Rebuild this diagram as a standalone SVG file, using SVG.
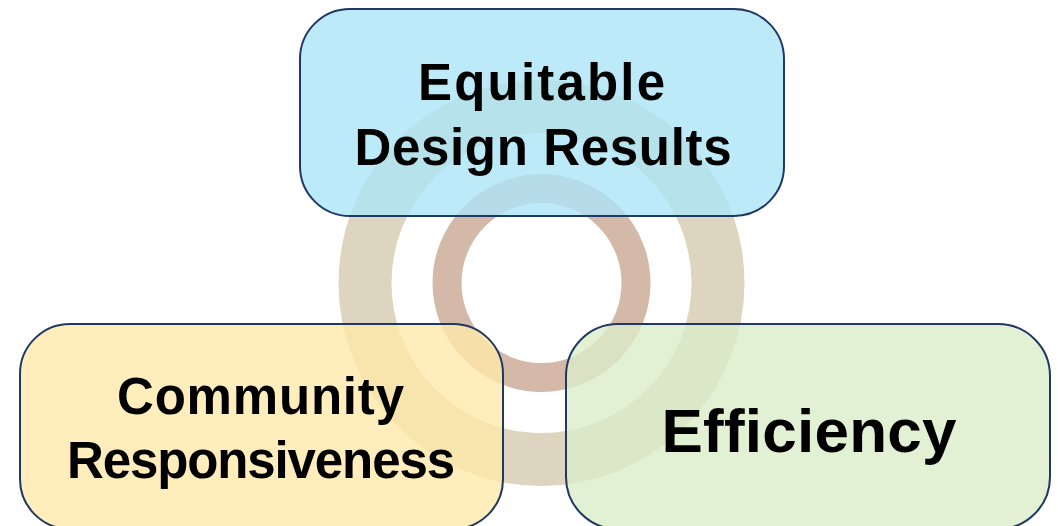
<svg xmlns="http://www.w3.org/2000/svg" width="1058" height="526" viewBox="0 0 1058 526">
  <style>
    .box { stroke: #1F3864; stroke-width: 2; fill-opacity: 0.8; }
    .label { font-family: "Liberation Sans", Arial, sans-serif; font-weight: bold; fill: #000; text-anchor: middle; }
    .ring { fill: none; }
  </style>
  <rect width="1058" height="526" fill="#FFFFFF"/>

  <!-- concentric rings behind the three boxes -->
  <g id="rings">
    <circle class="ring" cx="541.5" cy="283" r="176.5" stroke="#DDD5BF" stroke-width="53"/>
    <circle class="ring" cx="541.5" cy="283" r="94.5" stroke="#D4B9A8" stroke-width="29"/>
  </g>

  <g id="connectors"></g>

  <g id="node-equitable">
    <rect class="box" x="300" y="9" width="484" height="207" rx="50" ry="50" fill="#ACE5F7"/>
    <text class="label" x="541.5" y="100" font-size="51" textLength="247" lengthAdjust="spacing">Equitable</text>
    <text class="label" x="543" y="165" font-size="51" textLength="377" lengthAdjust="spacing">Design Results</text>
  </g>

  <g id="node-community">
    <rect class="box" x="20" y="324" width="483" height="205" rx="50" ry="50" fill="#FFE8AA"/>
    <text class="label" x="260.5" y="414" font-size="51" textLength="287" lengthAdjust="spacing">Community</text>
    <text class="label" x="261" y="478" font-size="51" textLength="388" lengthAdjust="spacing">Responsiveness</text>
  </g>

  <g id="node-efficiency">
    <rect class="box" x="566" y="324" width="484" height="205" rx="52" ry="52" fill="#DBECC9"/>
    <text class="label" x="809" y="452" font-size="62" textLength="295" lengthAdjust="spacing">Efficiency</text>
  </g>
</svg>
